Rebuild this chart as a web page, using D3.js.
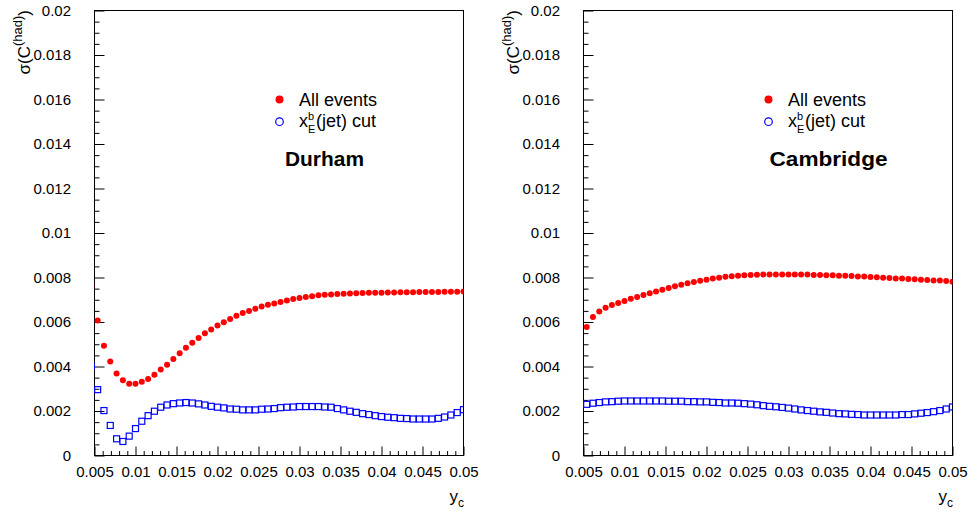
<!DOCTYPE html>
<html>
<head>
<meta charset="utf-8">
<script src="https://cdn.jsdelivr.net/npm/d3@7"></script>
<style>
  html, body { margin: 0; padding: 0; background: #fff; }
  svg { display: block; font-family: "Liberation Sans", Arial, Helvetica, sans-serif; }
</style>
</head>
<body>
<svg id="chart" width="970" height="515"></svg>
<script>
// y_c scan points (uniform grid, 13 points per 0.01)
const ycGrid = [
  0.004615, 0.005385, 0.006154, 0.006923, 0.007692, 0.008462, 0.009231, 0.010000,
  0.010769, 0.011538, 0.012308, 0.013077, 0.013846, 0.014615, 0.015385, 0.016154,
  0.016923, 0.017692, 0.018462, 0.019231, 0.020000, 0.020769, 0.021538, 0.022308,
  0.023077, 0.023846, 0.024615, 0.025385, 0.026154, 0.026923, 0.027692, 0.028462,
  0.029231, 0.030000, 0.030769, 0.031538, 0.032308, 0.033077, 0.033846, 0.034615,
  0.035385, 0.036154, 0.036923, 0.037692, 0.038462, 0.039231, 0.040000, 0.040769,
  0.041538, 0.042308, 0.043077, 0.043846, 0.044615, 0.045385, 0.046154, 0.046923,
  0.047692, 0.048462, 0.049231, 0.050000
];

// Durham: sigma(C^(had)) for all events and with the x_E^b(jet) cut (from ycGrid[0])
const durhamAll = [
  0.00762, 0.00607, 0.00493, 0.00423, 0.00368, 0.00338, 0.00323, 0.00323,
  0.00331, 0.00344, 0.00363, 0.00386, 0.00408, 0.00434, 0.00460, 0.00484,
  0.00507, 0.00528, 0.00549, 0.00566, 0.00584, 0.00599, 0.00613, 0.00628,
  0.00640, 0.00649, 0.00659, 0.00670, 0.00677, 0.00683, 0.00690, 0.00697,
  0.00703, 0.00708, 0.00712, 0.00716, 0.00720, 0.00722, 0.00724, 0.00726,
  0.00727, 0.00728, 0.00729, 0.00730, 0.00731, 0.00732, 0.00732, 0.00733,
  0.00733, 0.00734, 0.00734, 0.00734, 0.00735, 0.00735, 0.00735, 0.00735,
  0.00736, 0.00736, 0.00736, 0.00737
];
const durhamCut = [
  0.00401, 0.00296, 0.00202, 0.00135, 0.00075, 0.00063, 0.00087, 0.00121,
  0.00154, 0.00179, 0.00199, 0.00217, 0.00227, 0.00233, 0.00236, 0.00238,
  0.00236, 0.00232, 0.00227, 0.00221, 0.00217, 0.00214, 0.00209, 0.00208,
  0.00205, 0.00205, 0.00205, 0.00208, 0.00209, 0.00211, 0.00215, 0.00217,
  0.00218, 0.00220, 0.00220, 0.00220, 0.00220, 0.00218, 0.00217, 0.00211,
  0.00205, 0.00199, 0.00194, 0.00188, 0.00184, 0.00179, 0.00175, 0.00172,
  0.00170, 0.00167, 0.00166, 0.00164, 0.00164, 0.00164, 0.00164, 0.00167,
  0.00173, 0.00182, 0.00193, 0.00206
];

// Cambridge: same quantities (from ycGrid[1])
const cambridgeAll = [
  0.00578, 0.00622, 0.00647, 0.00664, 0.00676, 0.00685, 0.00694, 0.00704,
  0.00712, 0.00721, 0.00729, 0.00737, 0.00745, 0.00753, 0.00761, 0.00767,
  0.00774, 0.00780, 0.00785, 0.00790, 0.00795, 0.00799, 0.00803, 0.00806,
  0.00808, 0.00810, 0.00811, 0.00812, 0.00813, 0.00814, 0.00814, 0.00814,
  0.00814, 0.00814, 0.00813, 0.00813, 0.00811, 0.00811, 0.00810, 0.00810,
  0.00808, 0.00808, 0.00807, 0.00805, 0.00804, 0.00802, 0.00801, 0.00799,
  0.00798, 0.00796, 0.00795, 0.00793, 0.00792, 0.00790, 0.00789, 0.00787,
  0.00786, 0.00784, 0.00781
];
const cambridgeCut = [
  0.00230, 0.00235, 0.00238, 0.00241, 0.00242, 0.00244, 0.00245, 0.00245,
  0.00245, 0.00245, 0.00245, 0.00245, 0.00245, 0.00244, 0.00244, 0.00244,
  0.00242, 0.00242, 0.00241, 0.00241, 0.00239, 0.00238, 0.00236, 0.00236,
  0.00235, 0.00233, 0.00231, 0.00228, 0.00224, 0.00221, 0.00219, 0.00216,
  0.00213, 0.00209, 0.00205, 0.00202, 0.00199, 0.00196, 0.00194, 0.00191,
  0.00188, 0.00187, 0.00185, 0.00184, 0.00182, 0.00182, 0.00182, 0.00182,
  0.00182, 0.00182, 0.00184, 0.00184, 0.00187, 0.00190, 0.00193, 0.00197,
  0.00202, 0.00209, 0.00218
];

const xTickLabels = ["0.005", "0.01", "0.015", "0.02", "0.025", "0.03", "0.035", "0.04", "0.045", "0.05"];
const yTickLabels = ["0", "0.002", "0.004", "0.006", "0.008", "0.01", "0.012", "0.014", "0.016", "0.018", "0.02"];
const legendLabels = ["All events", "(jet) cut"];
const panelNames = ["Durham", "Cambridge"];

// ---- layout ----
const W = 970, H = 515;
const TOP = 10.5, BOTTOM = 455.5, PW = 369;
const panels = [
  { name: panelNames[0], left: 94.5,  xs: ycGrid,          all: durhamAll,    cut: durhamCut,    nameDx: 190.5, nameLen: 79 },
  { name: panelNames[1], left: 583.5, xs: ycGrid.slice(1), all: cambridgeAll, cut: cambridgeCut, nameDx: 186,   nameLen: 118 }
];
const RED = "#ff0000", BLUE = "#0000ff";
const FONT = 15;

const svg = d3.select("#chart");
svg.append("rect").attr("width", W).attr("height", H).attr("fill", "#fff");

const xMajor = xTickLabels.map(Number);
const xMinor = d3.range(5, 51).map(i => i / 1000).filter(v => !xMajor.some(m => Math.abs(m - v) < 1e-9));
const yMajor = yTickLabels.map(Number);
const yMinor = d3.range(0, 41).map(i => i / 2000).filter(v => !yMajor.some(m => Math.abs(m - v) < 1e-9));

panels.forEach((p, pi) => {
  const x = d3.scaleLinear().domain([0.005, 0.05]).range([p.left, p.left + PW]);
  const y = d3.scaleLinear().domain([0, 0.02]).range([BOTTOM, TOP]);
  const g = svg.append("g");

  // frame
  g.append("rect")
    .attr("x", p.left).attr("y", TOP).attr("width", PW).attr("height", BOTTOM - TOP)
    .attr("fill", "none").attr("stroke", "#000").attr("stroke-width", 1);

  // x axis: inward ticks, labels below
  const xAx = g.append("g").attr("transform", `translate(0,${BOTTOM})`)
    .call(d3.axisBottom(x).tickValues(xMajor).tickSizeInner(-9).tickSizeOuter(0).tickPadding(11)
      .tickFormat((d, i) => xTickLabels[i]));
  const xAxMinor = g.append("g").attr("transform", `translate(0,${BOTTOM})`)
    .call(d3.axisBottom(x).tickValues(xMinor).tickSizeInner(-4.5).tickSizeOuter(0).tickFormat(""));

  // y axis: inward ticks, labels left
  const yAx = g.append("g").attr("transform", `translate(${p.left},0)`)
    .call(d3.axisLeft(y).tickValues(yMajor).tickSizeInner(-10).tickSizeOuter(0).tickPadding(23.5)
      .tickFormat((d, i) => yTickLabels[i]));
  const yAxMinor = g.append("g").attr("transform", `translate(${p.left},0)`)
    .call(d3.axisLeft(y).tickValues(yMinor).tickSizeInner(-5).tickSizeOuter(0).tickFormat(""));

  [xAx, xAxMinor, yAx, yAxMinor].forEach(a => {
    a.select(".domain").remove();
    a.selectAll("line").attr("stroke", "#000").attr("stroke-width", 1);
    a.selectAll("text").attr("fill", "#000").attr("font-size", FONT)
      .attr("font-family", '"Liberation Sans", Arial, Helvetica, sans-serif');
  });

  // axis titles
  const xt = g.append("text").attr("x", p.left + PW + 0.5).attr("y", 502)
    .attr("text-anchor", "end").attr("font-size", 17).attr("fill", "#000");
  xt.append("tspan").text("y");
  xt.append("tspan").attr("font-size", 12).attr("dy", 5).text("c");

  const yt = g.append("text")
    .attr("transform", `translate(${p.left - 64.5},10) rotate(-90)`)
    .attr("text-anchor", "end").attr("font-size", 17).attr("fill", "#000");
  yt.append("tspan").text("σ(C");
  yt.append("tspan").attr("font-size", 13).attr("dy", -8).text("(had)");
  yt.append("tspan").attr("dy", 8).text(")");

  // markers
  const clipId = "clip" + pi;
  svg.append("clipPath").attr("id", clipId).append("rect")
    .attr("x", p.left - 0.5).attr("y", TOP).attr("width", PW + 0.5).attr("height", BOTTOM - TOP);
  const pts = g.append("g").attr("clip-path", `url(#${clipId})`);

  pts.selectAll("rect.cut").data(p.cut).join("rect").attr("class", "cut")
    .attr("x", (d, i) => x(p.xs[i]) - 3).attr("y", d => y(d) - 3)
    .attr("width", 6).attr("height", 6)
    .attr("fill", "none").attr("stroke", BLUE).attr("stroke-width", 1.2);

  pts.selectAll("circle.all").data(p.all).join("circle").attr("class", "all")
    .attr("cx", (d, i) => x(p.xs[i])).attr("cy", d => y(d)).attr("r", 3)
    .attr("fill", RED);

  // legend
  const lx = p.left + 185;
  g.append("circle").attr("cx", lx).attr("cy", 99.5).attr("r", 4).attr("fill", RED);
  g.append("text").attr("x", lx + 19.5).attr("y", 106).attr("font-size", 18).attr("fill", "#000")
    .text(legendLabels[0]);
  g.append("circle").attr("cx", lx).attr("cy", 121.7).attr("r", 3.8)
    .attr("fill", "none").attr("stroke", BLUE).attr("stroke-width", 1.2);
  g.append("text").attr("x", lx + 19.5).attr("y", 127).attr("font-size", 18).attr("fill", "#000").text("x");
  g.append("text").attr("x", lx + 28.5).attr("y", 119.5).attr("font-size", 11).attr("fill", "#000").text("b");
  g.append("text").attr("x", lx + 28.5).attr("y", 132.5).attr("font-size", 11).attr("fill", "#000").text("E");
  g.append("text").attr("x", lx + 36.5).attr("y", 127).attr("font-size", 18).attr("fill", "#000")
    .text(legendLabels[1]);

  // algorithm name
  g.append("text").attr("x", p.left + p.nameDx).attr("y", 165.5)
    .attr("font-size", 21).attr("font-weight", "bold").attr("fill", "#000")
    .attr("textLength", p.nameLen).attr("lengthAdjust", "spacingAndGlyphs")
    .text(p.name);
});
</script>
</body>
</html>
